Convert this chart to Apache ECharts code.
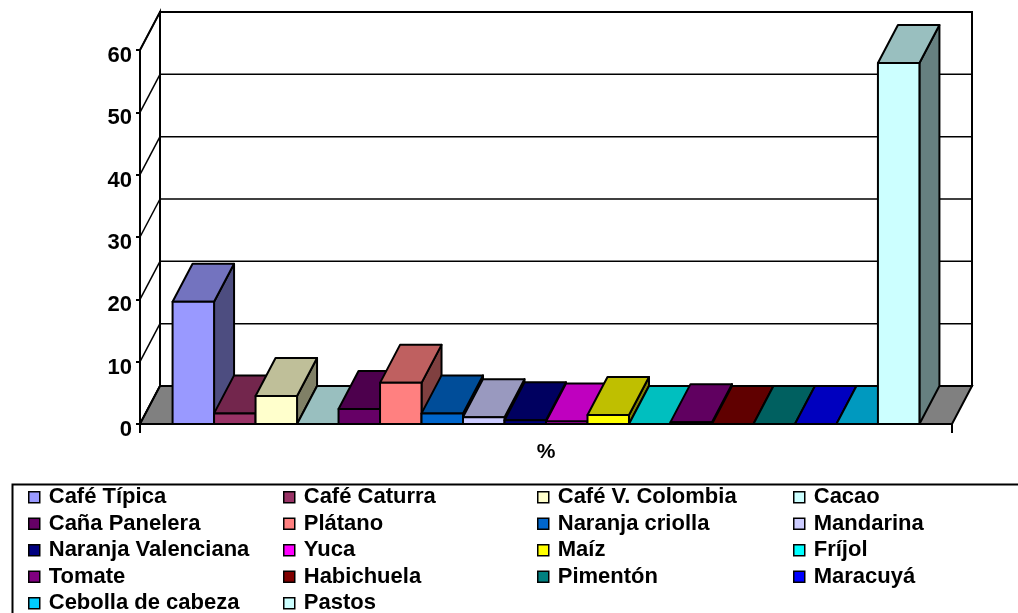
<!DOCTYPE html>
<html>
<head>
<meta charset="utf-8">
<script src="https://cdn.jsdelivr.net/npm/echarts@6/dist/echarts.min.js"></script>
<style>
html,body{margin:0;padding:0;background:#fff;}
#chart{width:1018px;height:613px;}
</style>
</head>
<body>
<div id="chart"></div>
<script>
// ---- data ----
const categories = ['%'];
const cropNames = ['Café Típica','Café Caturra','Café V. Colombia','Cacao','Caña Panelera','Plátano','Naranja criolla','Mandarina','Naranja Valenciana','Yuca','Maíz','Fríjol','Tomate','Habichuela','Pimentón','Maracuyá','Cebolla de cabeza','Pastos'];
const cropValues = [19.6, 1.7, 4.5, 0, 2.4, 6.6, 1.7, 1.1, 0.6, 0.4, 1.45, 0, 0.3, 0, 0, 0, 0, 57.9];
const cropColors = ['#9999FF','#993366','#FFFFCC','#CCFFFF','#660066','#FF8080','#0066CC','#CCCCFF','#000080','#FF00FF','#FFFF00','#00FFFF','#800080','#800000','#008080','#0000FF','#00CCFF','#CCFFFF'];
const yTicks = [0, 10, 20, 30, 40, 50, 60];

// ---- style / geometry constants ----
const DX = 20, DY = -38;          // oblique depth offset
const GAP = 1.57;                 // total gap (in bar widths) inside category
const FONT = "'Liberation Sans', Arial, sans-serif";
const yMax = yTicks[yTicks.length - 1];

function shade(hex, f) {
  const n = parseInt(hex.slice(1), 16);
  const r = Math.round(((n >> 16) & 255) * f), g = Math.round(((n >> 8) & 255) * f), b = Math.round((n & 255) * f);
  return 'rgb(' + r + ',' + g + ',' + b + ')';
}

function renderFrame(params, api) {
  const cs = params.coordSys;
  const L = cs.x, R = cs.x + cs.width;
  const y0 = api.coord([0, 0])[1];
  const yT = api.coord([0, yMax])[1];
  const edge = { stroke: '#000', lineWidth: 2 };
  const children = [
    { type: 'polygon', shape: { points: [[L, yT], [L + DX, yT + DY], [L + DX, y0 + DY], [L, y0]] }, style: Object.assign({ fill: '#fff' }, edge) },
    { type: 'rect', shape: { x: L + DX, y: yT + DY, width: R - L, height: y0 - yT }, style: Object.assign({ fill: '#fff' }, edge) },
    { type: 'polygon', shape: { points: [[L, y0], [L + DX, y0 + DY], [R + DX, y0 + DY], [R, y0]] }, style: Object.assign({ fill: '#808080' }, edge) }
  ];
  yTicks.forEach(function (v) {
    const y = api.coord([0, v])[1];
    children.push({ type: 'line', shape: { x1: L, y1: y, x2: L + DX, y2: y + DY }, style: { stroke: '#000', lineWidth: 1.5 } });
    if (v > 0 && v < yMax) {
      children.push({ type: 'line', shape: { x1: L + DX, y1: y + DY, x2: R + DX, y2: y + DY }, style: { stroke: '#000', lineWidth: 1.5 } });
    }
  });
  return { type: 'group', children: children };
}

function renderBar(params, api) {
  const i = params.seriesIndex - 1;
  const n = cropNames.length;
  const v = api.value(1);
  const top = api.coord([api.value(0), v]);
  const base = api.coord([api.value(0), 0]);
  const band = api.size([1, 0])[0];
  const w = band / (n + GAP);
  const x0 = top[0] - n * w / 2 + i * w, x1 = x0 + w;
  const yt = top[1], yb = base[1];
  const c = cropColors[i];
  const edge = { stroke: '#000', lineWidth: 2, lineJoin: 'round' };
  return {
    type: 'group',
    children: [
      { type: 'polygon', shape: { points: [[x1, yt], [x1 + DX, yt + DY], [x1 + DX, yb + DY], [x1, yb]] }, style: Object.assign({ fill: shade(c, 0.5) }, edge) },
      { type: 'polygon', shape: { points: [[x0, yt], [x0 + DX, yt + DY], [x1 + DX, yt + DY], [x1, yt]] }, style: Object.assign({ fill: shade(c, 0.75) }, edge) },
      { type: 'rect', shape: { x: x0, y: yt, width: w, height: yb - yt }, style: Object.assign({ fill: c }, edge) }
    ]
  };
}

const series = [{
  type: 'custom', name: '_frame', renderItem: renderFrame, data: [[0, 0]], z: 1, silent: true
}].concat(cropNames.map(function (name, i) {
  return {
    type: 'custom', name: name, renderItem: renderBar, z: 3 + i,
    itemStyle: { color: cropColors[i] },
    data: [[0, cropValues[i]]]
  };
}));

const colX = [28, 283, 537, 793];
const legends = colX.map(function (x, k) {
  return {
    orient: 'vertical', left: x, top: 484, height: 160, padding: 0, itemGap: 0,
    data: cropNames.filter(function (_, j) { return j % 4 === k; }),
    icon: 'rect', itemWidth: 11, itemHeight: 11, selectedMode: false,
    itemStyle: { borderColor: '#000', borderWidth: 1.5 },
    textStyle: { fontSize: 22, fontWeight: 'bold', fontFamily: FONT, color: '#000', lineHeight: 26.5, padding: [0, 0, 0, 4] }
  };
});

const chart = echarts.init(document.getElementById('chart'));
chart.setOption({
  animation: false,
  backgroundColor: '#fff',
  grid: { left: 140, top: 50, width: 812, height: 374 },
  xAxis: {
    type: 'category', data: categories,
    axisLine: { lineStyle: { color: '#000', width: 2 } },
    axisTick: { show: true, length: 9, lineStyle: { color: '#000', width: 2 } },
    axisLabel: { margin: 18, fontSize: 21, fontWeight: 'bold', fontFamily: FONT, color: '#000' },
    splitLine: { show: false }
  },
  yAxis: {
    type: 'value', min: 0, max: yMax, interval: 10,
    axisLine: { show: true, lineStyle: { color: '#000', width: 2 } },
    axisTick: { show: true, length: 4, lineStyle: { color: '#000', width: 2 } },
    axisLabel: { margin: 8, fontSize: 22, fontWeight: 'bold', fontFamily: FONT, color: '#000', verticalAlign: 'top', lineHeight: 12 },
    splitLine: { show: false }
  },
  legend: legends,
  graphic: [{
    type: 'rect', left: 10, top: 482, shape: { width: 1100, height: 200 },
    style: { fill: 'none', stroke: '#000', lineWidth: 2 }, silent: true
  }],
  series: series
});
</script>
</body>
</html>
